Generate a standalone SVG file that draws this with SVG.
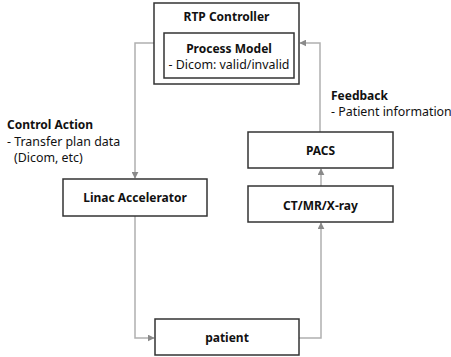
<svg xmlns="http://www.w3.org/2000/svg" width="451" height="357" viewBox="0 0 451 357">
  <style>
    .box { fill: #fff; stroke: #333; stroke-width: 1.5; }
    .t { font-family: "Noto Sans", "Open Sans", sans-serif; font-size: 12px; fill: #111; }
    .r { font-size: 12.4px; }
    .b { font-weight: bold; }
    .c { text-anchor: middle; }
    .edge { fill: none; stroke: #b0b0b0; stroke-width: 1.5; }
  </style>
  <defs>
    <marker id="arr" viewBox="0 0 10 10" refX="9" refY="5" markerWidth="7" markerHeight="7" markerUnits="userSpaceOnUse" orient="auto">
      <path d="M0,0 L10,5 L0,10 z" fill="#8a8a8a"/>
    </marker>
  </defs>
  <rect width="451" height="357" fill="#fff"/>

  <g id="connectors">
    <path class="edge" d="M154,43 H135 V178" marker-end="url(#arr)"/>
    <path class="edge" d="M135,216 V338 H154" marker-end="url(#arr)"/>
    <path class="edge" d="M299,338 H321 V223" marker-end="url(#arr)"/>
    <path class="edge" d="M321,186 V169" marker-end="url(#arr)"/>
    <path class="edge" d="M320,132 V43 H300" marker-end="url(#arr)"/>
  </g>

  <g id="rtp-controller">
    <rect class="box" x="154" y="3" width="145" height="81"/>
    <text class="t b c" x="226.5" y="20.5">RTP Controller</text>
    <g id="process-model">
      <rect class="box" x="164" y="33" width="130" height="45"/>
      <text class="t b c" x="229" y="53">Process Model</text>
      <text class="t r c" x="229" y="69">- Dicom: valid/invalid</text>
    </g>
  </g>

  <g id="control-action-label">
    <text class="t b" x="7" y="129">Control Action</text>
    <text class="t r" x="7" y="146">- Transfer plan data</text>
    <text class="t r" x="14" y="161.5">(Dicom, etc)</text>
  </g>

  <g id="feedback-label">
    <text class="t b" x="331" y="99.5">Feedback</text>
    <text class="t r" x="331" y="116">- Patient information</text>
  </g>

  <g id="linac">
    <rect class="box" x="63" y="179" width="144" height="37"/>
    <text class="t b c" x="135" y="201.5">Linac Accelerator</text>
  </g>

  <g id="pacs">
    <rect class="box" x="248" y="132" width="145" height="36"/>
    <text class="t b c" x="320.5" y="155">PACS</text>
  </g>

  <g id="ct-mr-xray">
    <rect class="box" x="248" y="186" width="145" height="36"/>
    <text class="t b c" x="320.5" y="210">CT/MR/X-ray</text>
  </g>

  <g id="patient">
    <rect class="box" x="155" y="319" width="144" height="36"/>
    <text class="t b c" x="227" y="342">patient</text>
  </g>
</svg>
